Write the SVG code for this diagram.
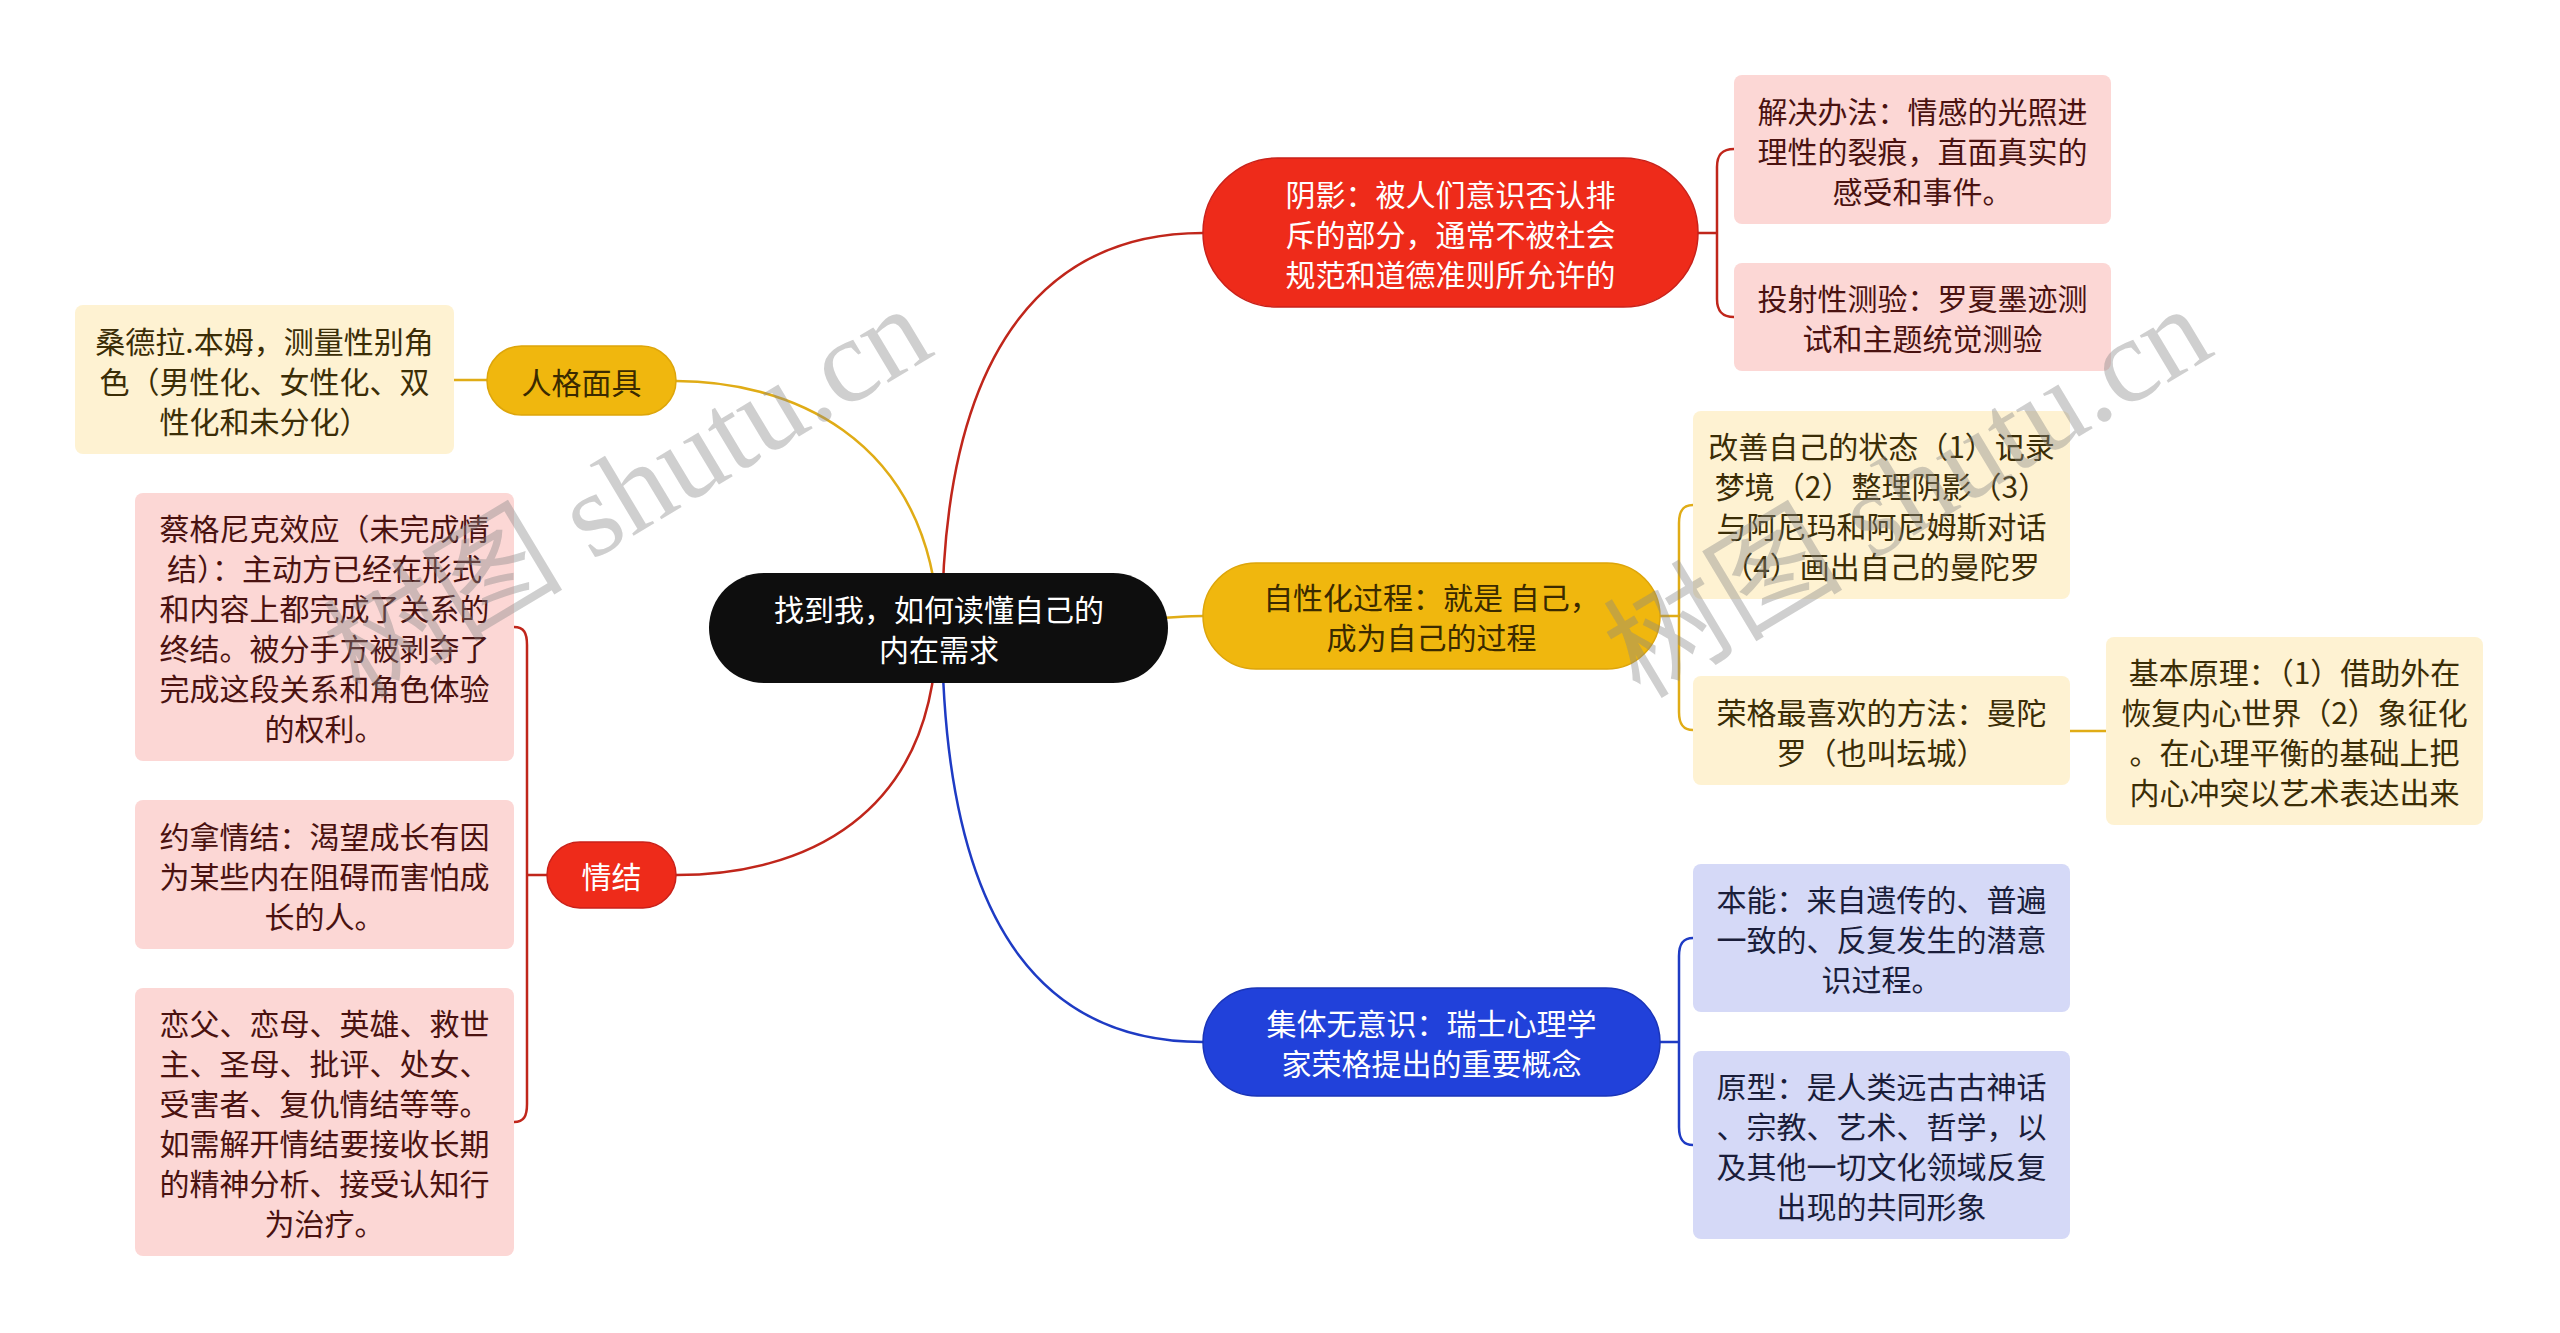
<svg xmlns="http://www.w3.org/2000/svg" width="2560" height="1333" viewBox="0 0 2560 1333">
<style>
text{font-family:"Noto Sans CJK SC","Liberation Sans",sans-serif;font-size:30px;text-anchor:middle;dominant-baseline:central}
.c-red{fill:none;stroke:#C0261B;stroke-width:2.5}
.c-gold{fill:none;stroke:#E0AC16;stroke-width:2.5}
.c-blue{fill:none;stroke:#1E3BC4;stroke-width:2.5}
.leaf-pink rect{fill:#FCD7D5}
.leaf-pink text{fill:#4A1210}
.leaf-beige rect{fill:#FEF2D2}
.leaf-beige text{fill:#3B2D06}
.leaf-blue rect{fill:#D5D9F7}
.leaf-blue text{fill:#1A1D3A}
.main-red rect{fill:#EE2B1A;stroke:#C9211A;stroke-width:1.5}
.main-red text{fill:#FFFFFF}
.main-gold rect{fill:#F0B70E;stroke:#DDA50A;stroke-width:1.5}
.main-gold text{fill:#3A2A00}
.main-blue rect{fill:#2141DA;stroke:#1A34B8;stroke-width:1.5}
.main-blue text{fill:#FFFFFF}
.wm{font-family:"Liberation Serif","Noto Sans CJK SC",serif;font-size:120px;fill:#888888;fill-opacity:0.4;text-anchor:start;dominant-baseline:auto}
</style>
<rect width="2560" height="1333" fill="#FFFFFF"/>
<g id="connectors">
<path class="c-gold" d="M676,381 C780,381 930,430 939,628"/>
<path class="c-red" d="M1203,233 C1060,233 942,330 942,628"/>
<path class="c-red" d="M676,875 C800,875 935,820 937,628"/>
<path class="c-gold" d="M939,628 C1100,628 1150,616 1203,616"/>
<path class="c-blue" d="M1203,1042 C1060,1042 943,950 942,628"/>
<path class="c-gold" d="M487,380 H454"/>
<path class="c-red" d="M1698,233 H1717 M1734,149 C1722,149 1717,155 1717,167 V299 C1717,311 1722,317 1734,317"/>
<path class="c-gold" d="M1660,616 H1679 M1693,505 C1683,505 1679,511 1679,523 V712 C1679,724 1683,730 1693,730"/>
<path class="c-gold" d="M2070,731 H2106"/>
<path class="c-blue" d="M1660,1042 H1679 M1693,938 C1683,938 1679,944 1679,956 V1127 C1679,1139 1683,1145 1693,1145"/>
<path class="c-red" d="M547,875 H527 M514,627 C524,627 527,633 527,645 V1104 C527,1116 524,1122 514,1122"/>
</g>
<g id="center">
<rect x="709" y="573" width="459" height="110" rx="55" fill="#0E0E0E"/>
<text x="939" y="608" fill="#FFFFFF">找到我，如何读懂自己的</text>
<text x="939" y="648" fill="#FFFFFF">内在需求</text>
</g>
<g id="persona" class="main-gold">
<rect x="487" y="346" width="189" height="69" rx="34.5"/>
<text x="581.5" y="380.5">人格面具</text>
</g>
<g id="persona-leaf" class="leaf-beige">
<rect x="75" y="305" width="379" height="149" rx="8"/>
<text x="264.5" y="340">桑德拉.本姆，测量性别角</text>
<text x="264.5" y="380">色（男性化、女性化、双</text>
<text x="264.5" y="420">性化和未分化）</text>
</g>
<g id="complex" class="main-red">
<rect x="547" y="842" width="129" height="66" rx="33"/>
<text x="611.5" y="875">情结</text>
</g>
<g id="complex-leaf1" class="leaf-pink">
<rect x="135" y="493" width="379" height="268" rx="8"/>
<text x="324.5" y="527">蔡格尼克效应（未完成情</text>
<text x="324.5" y="567">结）：主动方已经在形式</text>
<text x="324.5" y="607">和内容上都完成了关系的</text>
<text x="324.5" y="647">终结。被分手方被剥夺了</text>
<text x="324.5" y="687">完成这段关系和角色体验</text>
<text x="324.5" y="727">的权利。</text>
</g>
<g id="complex-leaf2" class="leaf-pink">
<rect x="135" y="800" width="379" height="149" rx="8"/>
<text x="324.5" y="834.5">约拿情结：渴望成长有因</text>
<text x="324.5" y="874.5">为某些内在阻碍而害怕成</text>
<text x="324.5" y="914.5">长的人。</text>
</g>
<g id="complex-leaf3" class="leaf-pink">
<rect x="135" y="988" width="379" height="268" rx="8"/>
<text x="324.5" y="1022">恋父、恋母、英雄、救世</text>
<text x="324.5" y="1062">主、圣母、批评、处女、</text>
<text x="324.5" y="1102">受害者、复仇情结等等。</text>
<text x="324.5" y="1142">如需解开情结要接收长期</text>
<text x="324.5" y="1182">的精神分析、接受认知行</text>
<text x="324.5" y="1222">为治疗。</text>
</g>
<g id="shadow" class="main-red">
<rect x="1203" y="158" width="495" height="149" rx="74.5"/>
<text x="1450.5" y="192.5">阴影：被人们意识否认排</text>
<text x="1450.5" y="232.5">斥的部分，通常不被社会</text>
<text x="1450.5" y="272.5">规范和道德准则所允许的</text>
</g>
<g id="shadow-leaf1" class="leaf-pink">
<rect x="1734" y="75" width="377" height="149" rx="8"/>
<text x="1922.5" y="109.5">解决办法：情感的光照进</text>
<text x="1922.5" y="149.5">理性的裂痕，直面真实的</text>
<text x="1922.5" y="189.5">感受和事件。</text>
</g>
<g id="shadow-leaf2" class="leaf-pink">
<rect x="1734" y="263" width="377" height="108" rx="8"/>
<text x="1922.5" y="297">投射性测验：罗夏墨迹测</text>
<text x="1922.5" y="337">试和主题统觉测验</text>
</g>
<g id="individuation" class="main-gold">
<rect x="1203" y="563" width="457" height="106" rx="53"/>
<text x="1431.5" y="596">自性化过程：就是 自己，</text>
<text x="1431.5" y="636">成为自己的过程</text>
</g>
<g id="individuation-leaf1" class="leaf-beige">
<rect x="1693" y="411" width="377" height="188" rx="8"/>
<text x="1881.5" y="445">改善自己的状态（1）记录</text>
<text x="1881.5" y="485">梦境（2）整理阴影（3）</text>
<text x="1881.5" y="525">与阿尼玛和阿尼姆斯对话</text>
<text x="1881.5" y="565">（4）画出自己的曼陀罗</text>
</g>
<g id="individuation-leaf2" class="leaf-beige">
<rect x="1693" y="676" width="377" height="109" rx="8"/>
<text x="1881.5" y="710.5">荣格最喜欢的方法：曼陀</text>
<text x="1881.5" y="750.5">罗（也叫坛城）</text>
</g>
<g id="mandala-leaf" class="leaf-beige">
<rect x="2106" y="637" width="377" height="188" rx="8"/>
<text x="2294.5" y="671">基本原理：（1）借助外在</text>
<text x="2294.5" y="711">恢复内心世界（2）象征化</text>
<text x="2294.5" y="751">。在心理平衡的基础上把</text>
<text x="2294.5" y="791">内心冲突以艺术表达出来</text>
</g>
<g id="collective" class="main-blue">
<rect x="1203" y="988" width="457" height="108" rx="54"/>
<text x="1431.5" y="1022">集体无意识：瑞士心理学</text>
<text x="1431.5" y="1062">家荣格提出的重要概念</text>
</g>
<g id="collective-leaf1" class="leaf-blue">
<rect x="1693" y="864" width="377" height="148" rx="8"/>
<text x="1881.5" y="898">本能：来自遗传的、普遍</text>
<text x="1881.5" y="938">一致的、反复发生的潜意</text>
<text x="1881.5" y="978">识过程。</text>
</g>
<g id="collective-leaf2" class="leaf-blue">
<rect x="1693" y="1051" width="377" height="188" rx="8"/>
<text x="1881.5" y="1085">原型：是人类远古古神话</text>
<text x="1881.5" y="1125">、宗教、艺术、哲学，以</text>
<text x="1881.5" y="1165">及其他一切文化领域反复</text>
<text x="1881.5" y="1205">出现的共同形象</text>
</g>
<g id="watermarks">
<text class="wm" transform="translate(360,700) rotate(-31)">树图 shutu.cn</text>
<text class="wm" transform="translate(1640,700) rotate(-31)">树图 shutu.cn</text>
</g>
</svg>
